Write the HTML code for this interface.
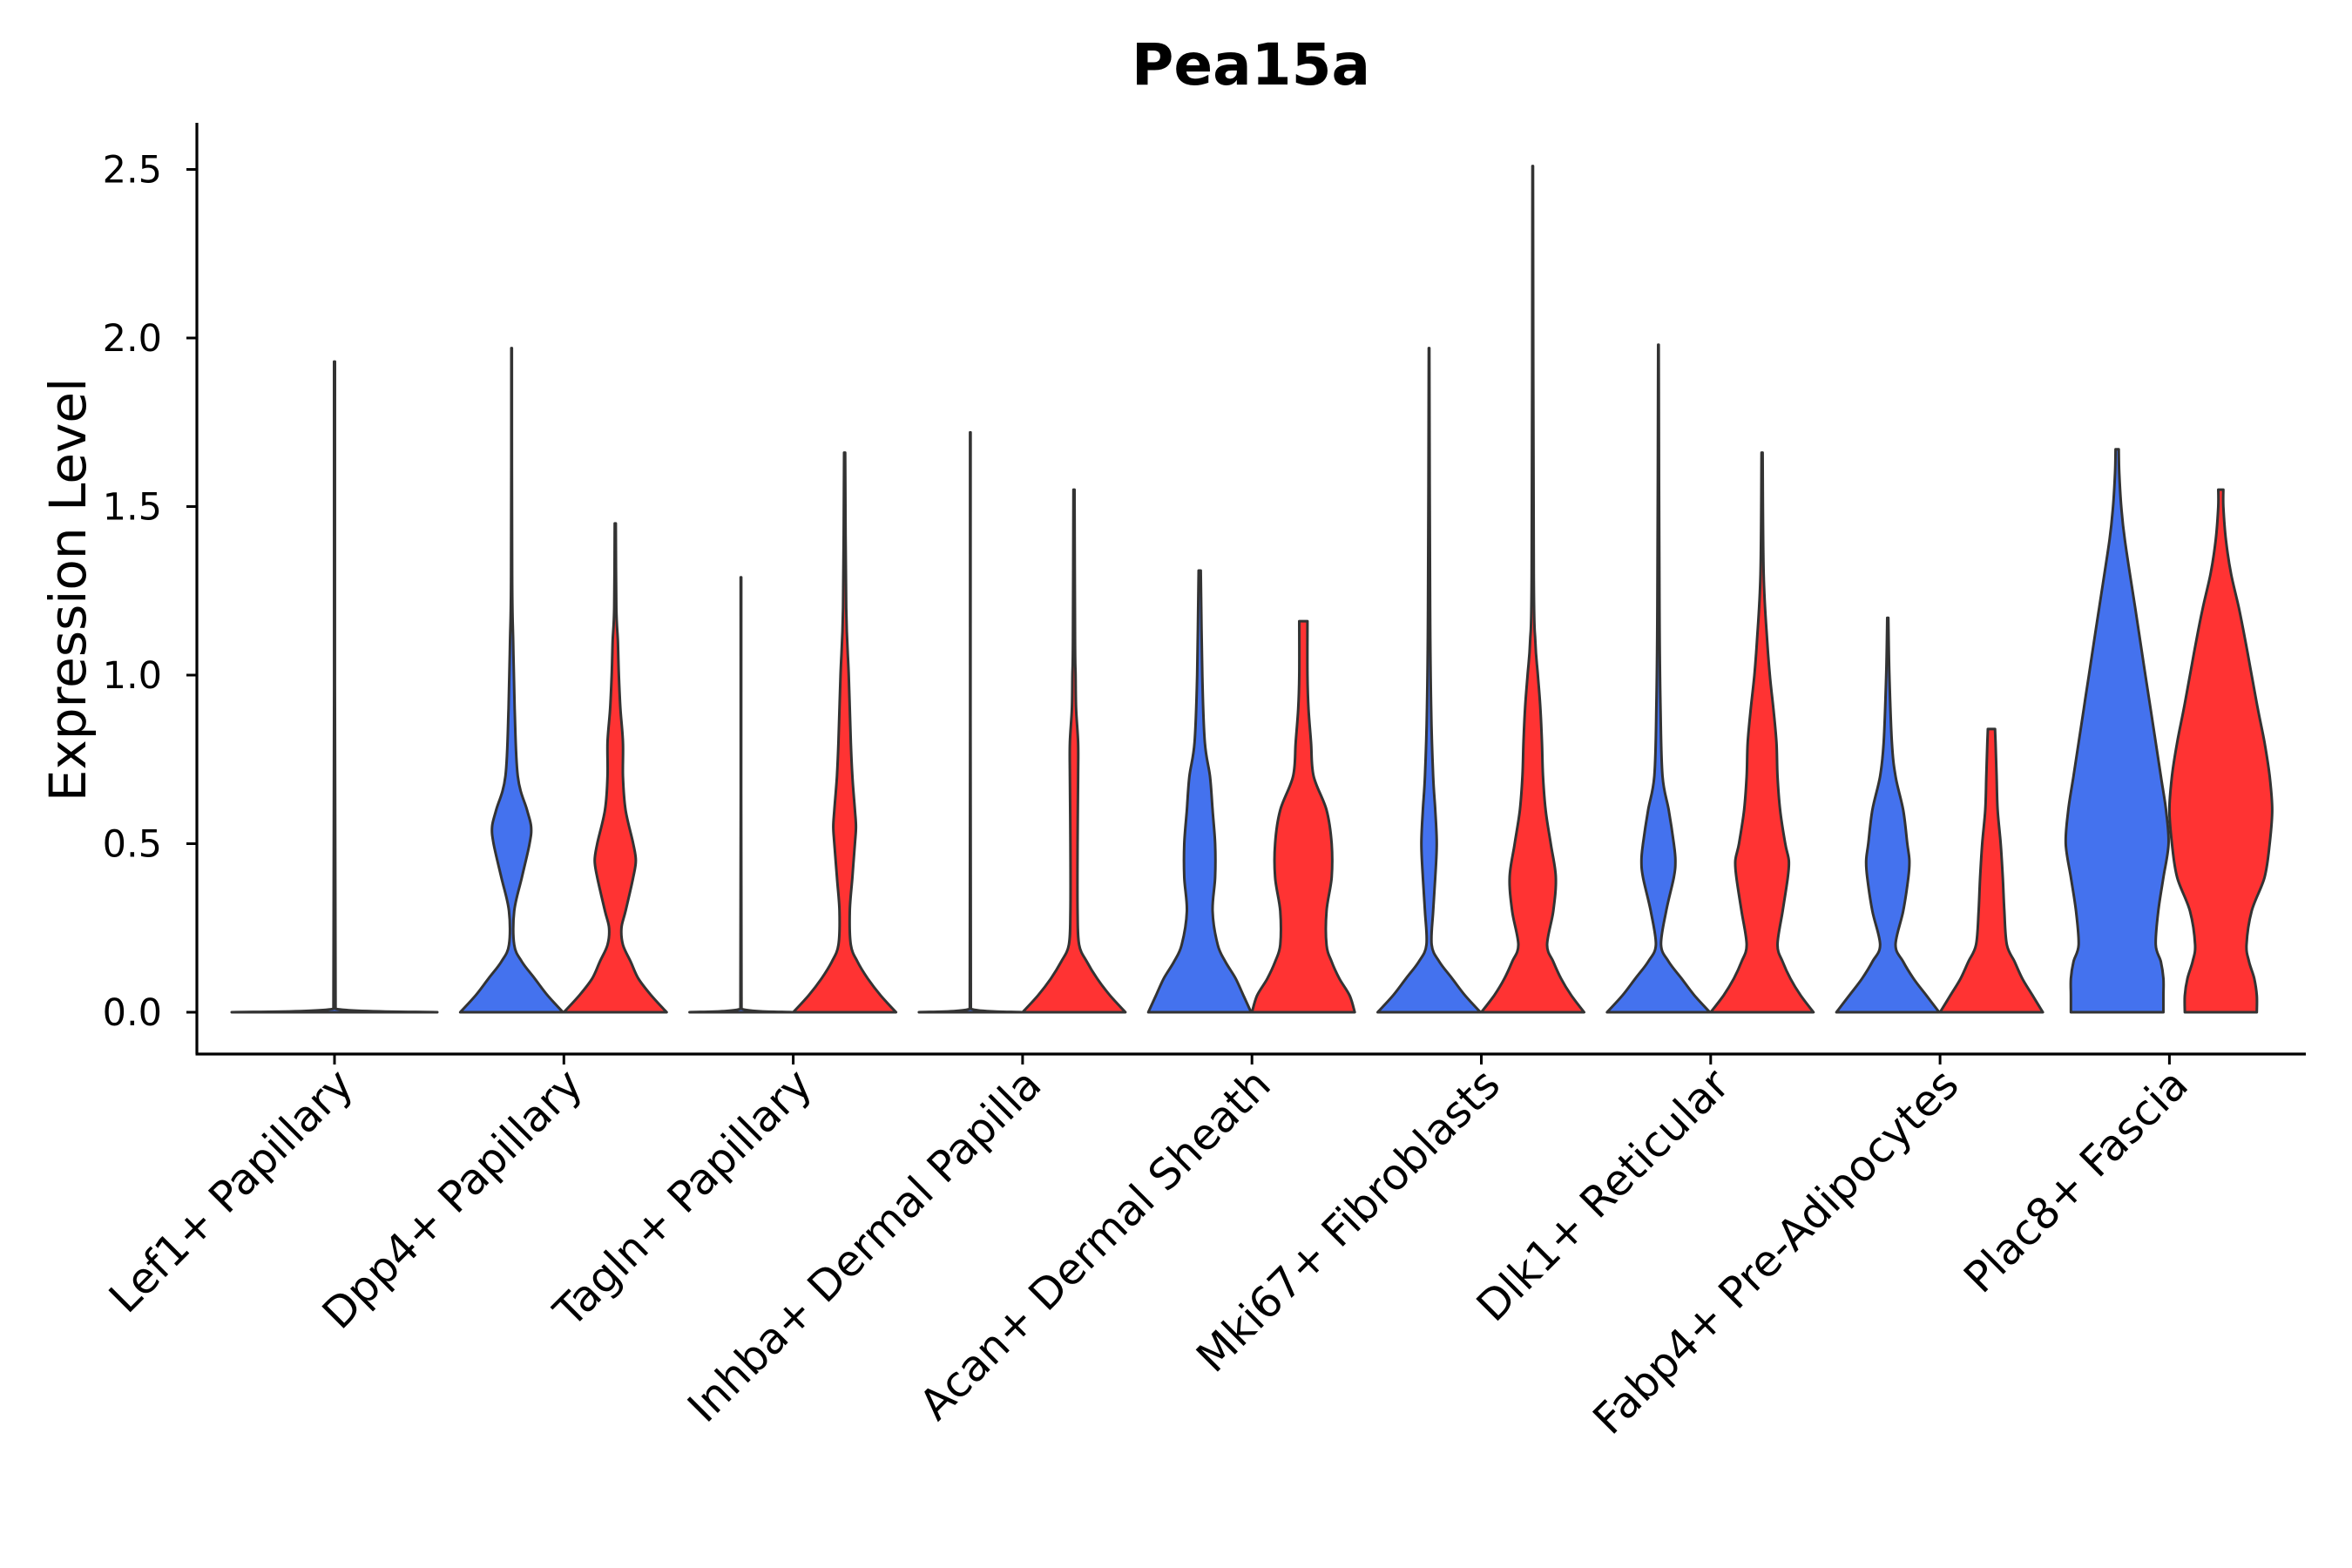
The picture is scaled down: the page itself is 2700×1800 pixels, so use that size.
<!DOCTYPE html>
<html><head><meta charset="utf-8"><style>
html,body{margin:0;padding:0;background:#fff;}
svg{display:block;font-family:"Liberation Sans","DejaVu Sans",sans-serif;}
</style></head><body>
<svg id="chart" width="2700" height="1800" viewBox="0 0 2700 1800" xmlns="http://www.w3.org/2000/svg">
<text x="1436" y="97" font-size="66" font-weight="bold" text-anchor="middle" font-family="DejaVu Sans, sans-serif">Pea15a</text>
<g id="plot"></g>
</svg>
<script>
const categories = ["Lef1+ Papillary","Dpp4+ Papillary","Tagln+ Papillary","Inhba+ Dermal Papilla","Acan+ Dermal Sheath","Mki67+ Fibroblasts","Dlk1+ Reticular","Fabp4+ Pre-Adipocytes","Plac8+ Fascia"];
const yTicks = [0, 0.5, 1.0, 1.5, 2.0, 2.5];
const yTickLabels = ["0.0","0.5","1.0","1.5","2.0","2.5"];
// each violin: [y, relative width] profiles
const lef1Blue = [[0,1],[0.01,0.01],[1.93,0.004]];
const dpp4Blue = [[0,1],[0.05,0.7],[0.1,0.45],[0.15,0.2],[0.2,0.05],[0.3,0.05],[0.4,0.2],[0.5,0.35],[0.55,0.38],[0.6,0.3],[0.7,0.12],[0.9,0.06],[1.1,0.03],[1.3,0.01],[1.97,0.005]];
const dpp4Red = [[0,1],[0.05,0.7],[0.1,0.45],[0.15,0.3],[0.2,0.15],[0.25,0.12],[0.3,0.2],[0.4,0.35],[0.45,0.4],[0.5,0.35],[0.6,0.2],[0.7,0.15],[0.8,0.15],[0.9,0.1],[1.0,0.07],[1.1,0.05],[1.2,0.02],[1.45,0.01]];
const taglnBlue = [[0,1],[0.01,0.01],[1.29,0.005]];
const taglnRed = [[0,1],[0.05,0.7],[0.1,0.45],[0.15,0.25],[0.2,0.12],[0.3,0.1],[0.4,0.15],[0.5,0.2],[0.55,0.22],[0.6,0.2],[0.7,0.15],[0.8,0.12],[1.0,0.08],[1.2,0.03],[1.66,0.01]];
const inhbaBlue = [[0,1],[0.01,0.01],[1.72,0.005]];
const inhbaRed = [[0,1],[0.05,0.7],[0.1,0.45],[0.15,0.25],[0.2,0.1],[0.3,0.07],[0.5,0.07],[0.7,0.08],[0.8,0.08],[0.9,0.04],[1.0,0.03],[1.1,0.02],[1.55,0.01]];
const acanBlue = [[0,1],[0.05,0.85],[0.1,0.7],[0.15,0.5],[0.2,0.35],[0.3,0.25],[0.4,0.3],[0.5,0.3],[0.6,0.25],[0.7,0.2],[0.8,0.1],[1.0,0.05],[1.31,0.02]];
const acanRed = [[0,1],[0.05,0.9],[0.1,0.7],[0.15,0.55],[0.2,0.45],[0.3,0.45],[0.4,0.55],[0.5,0.55],[0.6,0.45],[0.7,0.2],[0.8,0.15],[0.9,0.1],[1.0,0.08],[1.16,0.08]];
const mki67Blue = [[0,1],[0.05,0.7],[0.1,0.45],[0.15,0.2],[0.2,0.05],[0.3,0.08],[0.4,0.12],[0.5,0.15],[0.6,0.12],[0.7,0.08],[0.9,0.04],[1.2,0.02],[1.97,0.005]];
const mki67Red = [[0,1],[0.05,0.75],[0.1,0.55],[0.15,0.4],[0.2,0.28],[0.3,0.4],[0.4,0.45],[0.5,0.35],[0.6,0.25],[0.7,0.2],[0.8,0.18],[0.9,0.15],[1.0,0.1],[1.1,0.05],[1.3,0.02],[2.51,0.005]];
const dlk1Blue = [[0,1],[0.05,0.7],[0.1,0.45],[0.15,0.2],[0.2,0.05],[0.3,0.15],[0.4,0.3],[0.45,0.33],[0.5,0.3],[0.6,0.2],[0.7,0.08],[0.9,0.04],[1.2,0.02],[1.98,0.005]];
const dlk1Red = [[0,1],[0.05,0.75],[0.1,0.55],[0.15,0.4],[0.2,0.3],[0.3,0.4],[0.4,0.5],[0.45,0.52],[0.5,0.45],[0.6,0.35],[0.7,0.3],[0.8,0.28],[0.9,0.22],[1.0,0.15],[1.1,0.1],[1.3,0.03],[1.66,0.01]];
const fabp4Blue = [[0,1],[0.05,0.75],[0.1,0.5],[0.15,0.3],[0.2,0.15],[0.3,0.3],[0.4,0.4],[0.45,0.42],[0.5,0.38],[0.6,0.3],[0.7,0.15],[0.8,0.08],[1.0,0.03],[1.17,0.01]];
const fabp4Red = [[0,1],[0.05,0.8],[0.1,0.6],[0.15,0.45],[0.2,0.3],[0.3,0.25],[0.4,0.22],[0.5,0.18],[0.6,0.12],[0.7,0.1],[0.8,0.08],[0.84,0.07]];
const plac8Blue = [[0,0.9],[0.05,0.9],[0.1,0.9],[0.15,0.85],[0.2,0.75],[0.3,0.8],[0.4,0.9],[0.5,1.0],[0.6,0.95],[0.7,0.85],[0.8,0.75],[0.9,0.65],[1.0,0.55],[1.2,0.35],[1.4,0.15],[1.5,0.08],[1.6,0.04],[1.67,0.03]];
const plac8Red = [[0,0.7],[0.05,0.7],[0.1,0.65],[0.15,0.55],[0.2,0.5],[0.3,0.6],[0.4,0.85],[0.5,0.95],[0.6,1.0],[0.7,0.95],[0.8,0.85],[0.9,0.72],[1.0,0.6],[1.1,0.48],[1.2,0.35],[1.3,0.2],[1.4,0.1],[1.5,0.05],[1.55,0.05]];
const blueSeries = [lef1Blue,dpp4Blue,taglnBlue,inhbaBlue,acanBlue,mki67Blue,dlk1Blue,fabp4Blue,plac8Blue];
const redSeries = [null,dpp4Red,taglnRed,inhbaRed,acanRed,mki67Red,dlk1Red,fabp4Red,plac8Red];

const NS="http://www.w3.org/2000/svg";
const plot=document.getElementById('plot');
const x0=226, x1=2647, yTop=141, yBot=1210;
const xFirst=384, xStep=263.3;
const yScale=v=>1162 - v*387;
const xScale=i=>xFirst+i*xStep;
const HW=59;
function mk(tag,attrs){const e=document.createElementNS(NS,tag);for(const k in attrs)e.setAttribute(k,attrs[k]);plot.appendChild(e);return e;}
function clamp(v,a,b){const lo=Math.min(a,b),hi=Math.max(a,b);return Math.max(lo,Math.min(hi,v));}
function smooth(pts,cx,side){
  let d='M'+pts[0][0].toFixed(1)+','+pts[0][1].toFixed(1);
  const sx=v=>side<0?Math.min(v,cx):Math.max(v,cx);
  for(let i=0;i<pts.length-1;i++){
    const p0=pts[Math.max(0,i-1)],p1=pts[i],p2=pts[i+1],p3=pts[Math.min(pts.length-1,i+2)];
    const c1=[sx(p1[0]+(p2[0]-p0[0])/6),clamp(p1[1]+(p2[1]-p0[1])/6,p1[1],p2[1])];
    const c2=[sx(p2[0]-(p3[0]-p1[0])/6),clamp(p2[1]-(p3[1]-p1[1])/6,p1[1],p2[1])];
    d+=` C${c1[0].toFixed(1)},${c1[1].toFixed(1)} ${c2[0].toFixed(1)},${c2[1].toFixed(1)} ${p2[0].toFixed(1)},${p2[1].toFixed(1)}`;
  }
  return d;
}
function violin(prof,cx,hw,color,name){
  const left=prof.map(p=>[cx-p[1]*hw,yScale(p[0])]);
  const right=prof.slice().reverse().map(p=>[cx+p[1]*hw,yScale(p[0])]);
  const d=smooth(left,cx,-1)+' L'+smooth(right,cx,1).slice(1)+' Z';
  const e=mk('path',{d:d,fill:color,stroke:'#333','stroke-width':3,'stroke-linejoin':'round'});
  
  
}
categories.forEach((c,i)=>{
  const cx=xScale(i);
  const slug=c.toLowerCase().replace(/[^a-z0-9]+/g,'-').replace(/-$/,'');
  if(redSeries[i]===null){
    violin(blueSeries[i],cx,HW*2,'#4472EE','violin-'+slug+'-blue');
  } else {
    violin(blueSeries[i],cx-60,HW,'#4472EE','violin-'+slug+'-blue');
    violin(redSeries[i],cx+59,HW,'#FF3333','violin-'+slug+'-red');
  }
  const t=mk('line',{x1:cx,x2:cx,y1:yBot,y2:yBot+12,stroke:'#000','stroke-width':3});
  
  
  const lx=cx+24, ly=yBot+38;
  const lab=mk('text',{x:lx,y:ly,'font-size':49,'text-anchor':'end',fill:'#000',transform:`rotate(-45 ${lx} ${ly})`,'font-family':'DejaVu Sans, sans-serif'});
  lab.textContent=c;
  
  
});
yTicks.forEach((v,i)=>{
  const y=yScale(v);
  const t=mk('line',{x1:x0-12,x2:x0,y1:y,y2:y,stroke:'#000','stroke-width':3});
  
  
  const l=mk('text',{x:x0-40,y:y+15,'font-size':43,'text-anchor':'end',fill:'#000','font-family':'DejaVu Sans, sans-serif'});
  l.textContent=yTickLabels[i];
  
  
});
const ax=mk('line',{x1:x0,x2:x0,y1:yTop,y2:yBot,stroke:'#000','stroke-width':3.2});


const bx=mk('line',{x1:x0-1.5,x2:x1,y1:yBot,y2:yBot,stroke:'#000','stroke-width':3.2});


const yt=mk('text',{x:98,y:677,'font-size':58,'text-anchor':'middle',fill:'#000',transform:'rotate(-90 98 677)','font-family':'DejaVu Sans, sans-serif'});
yt.textContent='Expression Level';


</script>
</body></html>
